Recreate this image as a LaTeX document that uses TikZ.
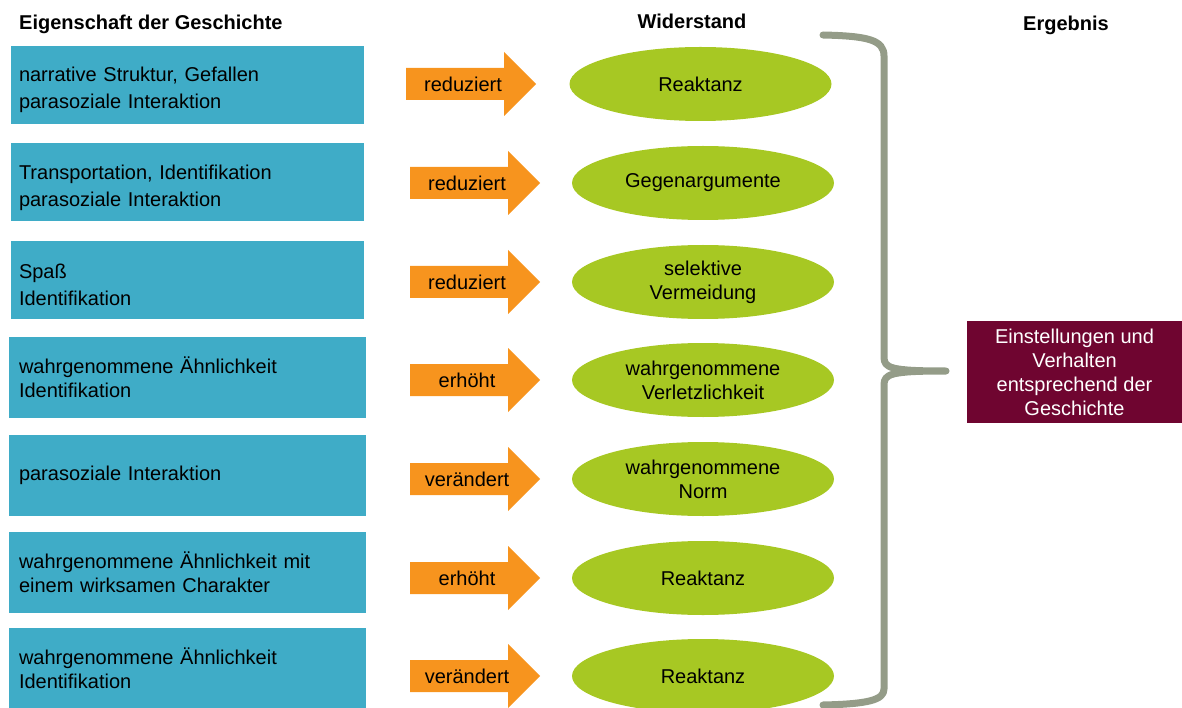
\documentclass[tikz,border=0pt]{standalone}
\usepackage{fontspec}
\setmainfont{Liberation Sans}
\usetikzlibrary{shapes.geometric}
\definecolor{boxblue}{HTML}{3FACC7}
\definecolor{arrorange}{HTML}{F7941E}
\definecolor{ellgreen}{HTML}{A7C823}
\definecolor{resmaroon}{HTML}{6F0530}
\definecolor{bracegray}{HTML}{949C88}
\newcommand\orarrow[4]{%
  \fill[arrorange] ({#2},{#3-16}) -- ({#2+98},{#3-16}) -- ({#2+98},{#3-32}) -- ({#2+130},{#3})
    -- ({#2+98},{#3+32}) -- ({#2+98},{#3+16}) -- ({#2},{#3+16}) -- cycle;
  \node[arrtext] (#1) at ({#2+57},{#3}) {#4};}
\newcommand\topstrut{\rule{0pt}{25pt}}
\begin{document}
\begin{tikzpicture}[x=1pt,y=-1pt,font=\fontsize{20}{24}\selectfont,
  propbox/.style={fill=boxblue, minimum width=353pt, minimum height=78pt, text width=337pt,
    inner xsep=8pt, inner ysep=0pt, align=left},
  widebox/.style={propbox, minimum width=357pt, minimum height=81pt, text width=337pt, inner xsep=10pt},
  resell/.style={ellipse, fill=ellgreen, minimum width=262pt, minimum height=74pt, inner sep=0pt, align=center},
  arrtext/.style={inner sep=0pt},
  header/.style={font=\fontsize{20}{24}\selectfont\bfseries, inner sep=0pt},
  resbox/.style={fill=resmaroon, text=white, minimum width=215pt, minimum height=102pt, inner sep=0pt, align=center}]
\useasboundingbox (0,0) rectangle (1182,708);

\node[header, anchor=west] (h1) at (19,24) {Eigenschaft der Geschichte};
\node[header] (h2) at (692,21) {Widerstand};
\node[header] (h3) at (1066,25) {Ergebnis};

\node[propbox, font=\fontsize{20}{27}\selectfont] (p1) at (187.5,85) {\topstrut narrative Struktur, Gefallen\\parasoziale Interaktion};
\node[propbox, font=\fontsize{20}{27}\selectfont] (p2) at (187.5,182.5) {\topstrut Transportation, Identifikation\\parasoziale Interaktion};
\node[propbox, font=\fontsize{20}{27}\selectfont] (p3) at (187.5,280) {\topstrut Spaß\\Identifikation};
\node[widebox] (p4) at (187.5,377.5) {wahrgenommene Ähnlichkeit\\Identifikation};
\node[widebox] (p5) at (187.5,475) {parasoziale Interaktion};
\node[widebox] (p6) at (187.5,572.5) {wahrgenommene Ähnlichkeit mit\\einem wirksamen Charakter};
\node[widebox] (p7) at (187.5,668.5) {wahrgenommene Ähnlichkeit\\Identifikation};

\orarrow{a1}{406}{84}{reduziert}
\orarrow{a2}{410}{183}{reduziert}
\orarrow{a3}{410}{282}{reduziert}
\orarrow{a4}{410}{380}{erhöht}
\orarrow{a5}{410}{479}{verändert}
\orarrow{a6}{410}{578}{erhöht}
\orarrow{a7}{410}{676}{verändert}

\node[resell] (e1) at (700.5,84) {Reaktanz};
\node[resell] (e2) at (703,183) {Gegenargumente};
\node[resell] (e3) at (703,282) {selektive\\Vermeidung};
\node[resell] (e4) at (703,380) {wahrgenommene\\Verletzlichkeit};
\node[resell] (e5) at (703,479) {wahrgenommene\\Norm};
\node[resell] (e6) at (703,578) {Reaktanz};
\node[resell] (e7) at (703,676) {Reaktanz};

\draw[bracegray, line width=7pt, line cap=round, line join=round]
  (823,35) .. controls (868,36) and (884,40) .. (884,56) -- (884,357)
  .. controls (884,368) and (890,371) .. (946,371)
  .. controls (890,371) and (884,374) .. (884,385) -- (884,689)
  .. controls (884,700) and (868,704) .. (823,705);

\node[resbox] (r) at (1074.5,372) {Einstellungen und\\Verhalten\\entsprechend der\\Geschichte};
\end{tikzpicture}
\end{document}
